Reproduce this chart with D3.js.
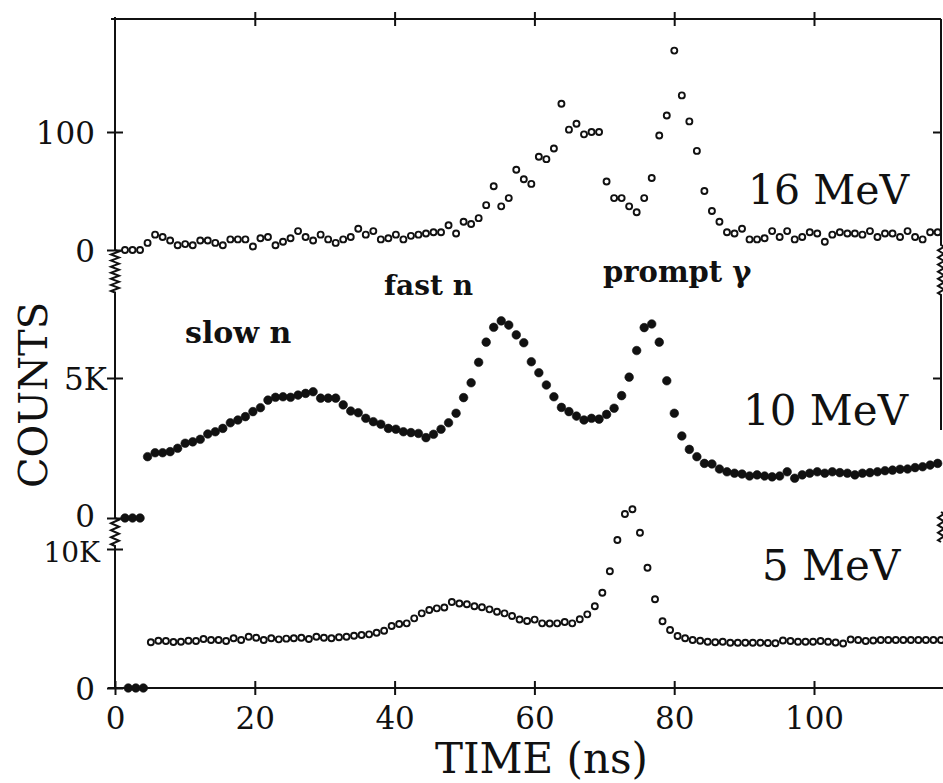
<!DOCTYPE html>
<html>
<head>
<meta charset="utf-8">
<script src="https://cdn.jsdelivr.net/npm/d3@7/dist/d3.min.js"></script>
<style>
html, body { margin: 0; padding: 0; background: #fff; }
svg { display: block; font-family: "DejaVu Serif", serif; }
</style>
</head>
<body>
<div id="chart"></div>
<script>
// TDC time bins (ns): first bin centre per run, common bin width
var binWidth = 1.0765;
var start16 = 1.43, start10 = 1.43, start5 = 1.90;

// counts per bin
var counts16 = [0,0,0,6,13,11,8,4,5,4, 8,8,6,4,9,9,9,3,10,11, 4,7,10,16,11,8,13,9,6,9,
    11,18,13,16,9,10,13,9,12,13, 14,15,15,21,14,24,22,27,38,54, 37,44,68,60,56,79,77,86,124,102,
    107,98,100,100,58,44,44,37,32,44, 61,97,114,169,131,109,84,50,33,24, 15,14,18,9,9,10,16,11,16,9,
    11,15,14,7,13,15,14,14,13,16, 11,14,14,11,16,11,9,15,15];
var counts10 = [0,0,0,2190,2330,2330,2370,2490,2670,2720, 2810,3000,3080,3200,3400,3500,3620,3800,3940,4210,
    4310,4330,4310,4390,4450,4510,4280,4280,4280,4040, 3820,3760,3560,3440,3350,3200,3170,3080,3050,3020,
    2870,2990,3170,3400,3740,4300,4830,5560,6280,6810, 7040,6890,6540,6260,5580,5190,4750,4330,3950,3800,
    3640,3500,3560,3530,3700,3920,4370,5030,5980,6800, 6930,6280,4900,3740,2930,2450,2190,1950,1930,1750,
    1650,1600,1570,1500,1540,1500,1470,1500,1650,1420, 1540,1600,1650,1600,1650,1620,1600,1540,1600,1620,
    1650,1690,1710,1740,1750,1800,1830,1890,1950];
var counts5 = [0,0,0,3290,3400,3380,3310,3330,3400,3380, 3530,3450,3450,3380,3580,3450,3690,3620,3450,3580,
    3500,3550,3580,3620,3530,3690,3620,3580,3650,3690, 3760,3810,3860,3980,4120,4460,4600,4650,5010,5370,
    5610,5730,5790,6190,6080,6020,5880,5810,5660,5490, 5370,5180,4930,4820,4920,4650,4640,4650,4750,4650,
    4950,5300,5880,6850,8400,10650,12520,12860,11170,8650, 6380,4800,4170,3740,3580,3450,3400,3330,3290,3330,
    3260,3260,3260,3260,3260,3240,3220,3420,3380,3330, 3330,3330,3380,3330,3270,3200,3490,3450,3380,3420,
    3450,3450,3450,3450,3450,3450,3450,3450,3450];

var timeTicks = [0, 20, 40, 60, 80, 100];
var ticks16 = [0, 100], ticks10 = [0, 5000], ticks5 = [0, 10000];

var W = 943, H = 783;
var INK = '#111';
var svg = d3.select('#chart').append('svg').attr('width', W).attr('height', H);

var x   = d3.scaleLinear().domain([0, 100]).range([115, 814]);
var y16 = d3.scaleLinear().domain([0, 100]).range([250, 132]);
var y10 = d3.scaleLinear().domain([0, 5000]).range([518, 378]);
var y5  = d3.scaleLinear().domain([0, 10000]).range([688, 549]);

var axL = x(0), axR = 941, axT = 19, axB = y5(0);

function bins(start, counts){
    return counts.map(function(c, i){ return { t: start + i * binWidth, c: c }; });
}
function fmtK(d){ return d >= 1000 ? (d / 1000) + 'K' : d; }

// zigzag axis break between ya and yb
function zig(px, ya, yb, n, amp){
    var s = '', h = (yb - ya) / n;
    for(var i = 0; i < n; i++){
        s += 'L' + (px + amp) + ',' + (ya + h * (i + 0.25)) + 'L' + (px - amp) + ',' + (ya + h * (i + 0.75));
    }
    return s + 'L' + px + ',' + yb;
}

var axG = svg.append('g').attr('fill', 'none').attr('stroke', INK).attr('stroke-width', 2);

// left axis with breaks
axG.append('path').attr('d',
    'M' + axL + ',' + (axT - 2) + 'L' + axL + ',' + y16(0) + zig(axL, y16(0), y16(-36), 7, 4) +
    'L' + axL + ',' + y10(0) + zig(axL, y10(0), y5(10000) - 3, 4, 4) + 'L' + axL + ',' + axB);
// right edge with breaks (lower part runs off the page)
axG.append('path').attr('d',
    'M' + axR + ',' + axT + 'L' + axR + ',' + (y16(0) - 5) + zig(axR, y16(0) - 5, y16(-38), 7, 3) +
    'L' + axR + ',' + (y10(0) - 88));
axG.append('path').attr('d', 'M' + axR + ',' + (y10(0) - 6) + zig(axR, y10(0) - 6, y5(10000) - 7, 4, 3));
// top and bottom lines
axG.append('line').attr('x1', axL - 4).attr('x2', axR).attr('y1', axT).attr('y2', axT);
axG.append('line').attr('x1', axL - 7).attr('x2', W).attr('y1', axB).attr('y2', axB);

function styleAxis(g){
    g.select('.domain').remove();
    g.selectAll('.tick line').attr('stroke', INK).attr('stroke-width', 2);
    g.selectAll('.tick text').attr('fill', INK).attr('font-size', 31)
        .attr('font-family', '"DejaVu Serif", serif');
}

// bottom time axis
var gx = svg.append('g').attr('transform', 'translate(0,' + axB + ')')
    .call(d3.axisBottom(x).tickValues(timeTicks).tickSize(7).tickPadding(0));
styleAxis(gx);
gx.selectAll('.tick line').attr('y1', -7);
gx.selectAll('.tick text').attr('y', 41).attr('dy', 0);

// top time axis (ticks only)
var gt = svg.append('g').attr('transform', 'translate(0,' + axT + ')')
    .call(d3.axisTop(x).tickValues(timeTicks.slice(1)).tickSize(7).tickFormat(''));
styleAxis(gt);
gt.selectAll('.tick line').attr('y1', 7);

// left count axes, one per run
[[y16, ticks16, 20], [y10, ticks10, 8], [y5, ticks5, 15]].forEach(function(a){
    var g = svg.append('g').attr('transform', 'translate(' + axL + ',0)')
        .call(d3.axisLeft(a[0]).tickValues(a[1]).tickSize(8).tickFormat(fmtK));
    styleAxis(g);
    g.selectAll('.tick line').attr('x1', 8);
    g.selectAll('.tick text').attr('x', function(d){ return d === 0 ? -20 : -a[2]; })
        .attr('dy', '0.36em');
});
// the stacked "0" / "10K" pair sits tight against the break
svg.selectAll('.tick text').filter(function(d){ return d === 10000; })
    .attr('font-size', 28).attr('dy', '0.45em');
svg.selectAll('.tick').filter(function(d){ return d === 0 && this.getAttribute('transform') === 'translate(0,518.5)'; })
    .select('text').attr('dy', '0.28em');

// right ticks, inward only
[[y16, [100]], [y10, [5000]]].forEach(function(a){
    var g = svg.append('g').attr('transform', 'translate(' + axR + ',0)')
        .call(d3.axisRight(a[0]).tickValues(a[1]).tickSize(-8).tickFormat(''));
    styleAxis(g);
});

// data points
function drawRun(data, y, filled, zeroFilled){
    function solid(d){ return filled || (zeroFilled && d.c === 0); }
    svg.append('g').selectAll('circle').data(data).join('circle')
        .attr('cx', function(d){ return x(d.t); })
        .attr('cy', function(d){ return y(d.c); })
        .attr('r', function(d){ return solid(d) ? 4.3 : 3; })
        .attr('fill', function(d){ return solid(d) ? INK : '#fff'; })
        .attr('stroke', INK)
        .attr('stroke-width', function(d){ return solid(d) ? 0.6 : 1.9; });
}
drawRun(bins(start16, counts16), y16, false, false);
drawRun(bins(start10, counts10), y10, true, false);
drawRun(bins(start5, counts5), y5, false, true);

// text
var txt = svg.append('g').attr('fill', INK);
txt.append('text').attr('x', 748).attr('y', 204).attr('font-size', 41).text('16 MeV');
txt.append('text').attr('x', 743).attr('y', 425).attr('font-size', 42).text('10 MeV');
txt.append('text').attr('x', 762).attr('y', 580).attr('font-size', 42).text('5 MeV');
txt.append('text').attr('x', 384).attr('y', 295).attr('font-size', 28).attr('font-weight', 'bold').text('fast n');
txt.append('text').attr('x', 185).attr('y', 343).attr('font-size', 30).attr('font-weight', 'bold').text('slow n');
txt.append('text').attr('x', 603).attr('y', 282).attr('font-size', 29).attr('font-weight', 'bold').text('prompt γ');
txt.append('text').attr('transform', 'translate(47,395) rotate(-90)').attr('text-anchor', 'middle')
    .attr('font-size', 40).text('COUNTS');
txt.append('text').attr('x', 435).attr('y', 773).attr('font-size', 42).text('TIME (ns)');
</script>
</body>
</html>
